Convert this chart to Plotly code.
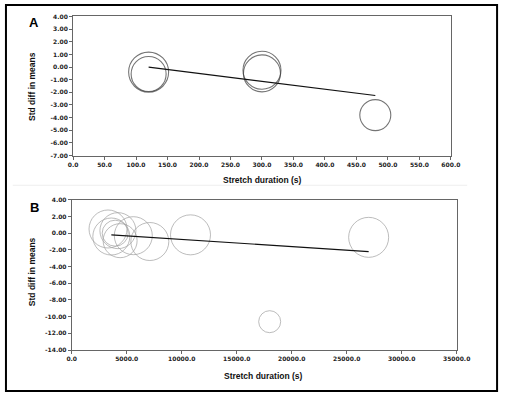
import plotly.graph_objects as go

W, H = 513, 396

# ---------- Data ----------
# Panel A
a_duration = [120, 120, 300, 300, 480]
a_smd = [-0.40, -0.55, -0.25, -0.50, -3.80]
a_weight = [40, 35, 38, 37, 31]
a_reg_x = [120, 480]
a_reg_y = [0.0, -2.25]
a_yticks = [4, 3, 2, 1, 0, -1, -2, -3, -4, -5, -6, -7]
a_xticks = [0, 50, 100, 150, 200, 250, 300, 350, 400, 450, 500, 550, 600]

# Panel B
b_duration = [3300, 3600, 3950, 4200, 4400, 5600, 7100, 10800, 18000, 27000]
b_smd = [0.50, -0.40, 0.00, 0.30, -0.90, -0.30, -1.00, -0.20, -10.60, -0.50]
b_weight = [38, 37, 26, 36, 34, 38, 38, 40, 22, 40]
b_reg_x = [3600, 27000]
b_reg_y = [-0.2, -2.2]
b_yticks = [4, 2, 0, -2, -4, -6, -8, -10, -12, -14]
b_xticks = [0, 5000, 10000, 15000, 20000, 25000, 30000, 35000]

SIZE_SCALE = 1.0

def px(x):
    return x / W

def py(y):
    return 1 - y / H

fig = go.Figure()

fig.add_trace(go.Scatter(
    x=a_duration, y=a_smd, mode="markers",
    marker=dict(symbol="circle-open", size=[w * SIZE_SCALE for w in a_weight],
                color="#3a3a3a", line=dict(width=1.1, color="#3a3a3a")),
    xaxis="x", yaxis="y", showlegend=False, hoverinfo="skip"))
fig.add_trace(go.Scatter(
    x=a_reg_x, y=a_reg_y, mode="lines",
    line=dict(color="#111111", width=1.2),
    xaxis="x", yaxis="y", showlegend=False, hoverinfo="skip"))

fig.add_trace(go.Scatter(
    x=b_duration, y=b_smd, mode="markers",
    marker=dict(symbol="circle-open", size=[w * SIZE_SCALE for w in b_weight],
                color="#a0a0a0", line=dict(width=1, color="#a0a0a0")),
    xaxis="x2", yaxis="y2", showlegend=False, hoverinfo="skip"))
fig.add_trace(go.Scatter(
    x=b_reg_x, y=b_reg_y, mode="lines",
    line=dict(color="#111111", width=1.2),
    xaxis="x2", yaxis="y2", showlegend=False, hoverinfo="skip"))

tickfont = dict(family="DejaVu Sans", size=6, color="#222222", weight="bold")
axis_common = dict(showline=True, mirror=True, linecolor="#666666", linewidth=1,
                   ticks="outside", ticklen=3, tickcolor="#666666", tickwidth=1,
                   showgrid=False, zeroline=False, tickfont=tickfont)

fig.update_layout(
    width=W, height=H, autosize=False,
    margin=dict(l=0, r=0, t=0, b=0),
    paper_bgcolor="white", plot_bgcolor="white",
    xaxis=dict(domain=[px(70.7), px(463)], anchor="y", range=[0, 600],
               tickvals=a_xticks, ticktext=[f"{v:.1f}" for v in a_xticks],
               **axis_common),
    yaxis=dict(domain=[py(154.3), py(12.7)], anchor="x", range=[-7, 4],
               tickvals=a_yticks, ticktext=[f"{v:.2f}" for v in a_yticks],
               **axis_common),
    xaxis2=dict(domain=[px(69.3), px(469)], anchor="y2", range=[0, 35000],
                tickvals=b_xticks, ticktext=[f"{v:.1f}" for v in b_xticks],
                **axis_common),
    yaxis2=dict(domain=[py(352.3), py(199.3)], anchor="x2", range=[-14, 4],
                tickvals=b_yticks, ticktext=[f"{v:.2f}" for v in b_yticks],
                **axis_common),
)

title_font = dict(family="Liberation Sans, Arial", size=8.5, color="#111111")
label_font = dict(family="Liberation Sans, Arial", size=13, color="#000")

def note(text, x, y, font, angle=0):
    return dict(text=text, x=px(x), y=py(y), xref="paper", yref="paper",
                xanchor="center", yanchor="middle", showarrow=False,
                textangle=angle, font=font)

ann = [
    note("<b>A</b>", 30, 19, label_font),
    note("<b>B</b>", 30.5, 207.5, label_font),
    note("<b>Std diff in means</b>", 28, 83.5, title_font, -90),
    note("<b>Std diff in means</b>", 28, 272, title_font, -90),
    note("<b>Stretch duration (s)</b>", 267.5, 179, title_font),
    note("<b>Stretch duration (s)</b>", 268, 378.5, title_font),
]
fig.update_layout(annotations=ann)

shapes = [
    dict(type="rect", xref="paper", yref="paper", x0=px(1), x1=px(511), y0=py(394), y1=py(1),
         line=dict(color="#000000", width=2)),
    dict(type="line", xref="paper", yref="paper", x0=px(8), x1=px(480), y0=py(184.5), y1=py(184.5),
         line=dict(color="#eeeeee", width=1)),
]
fig.update_layout(shapes=shapes)

fig.write_html(
    "out.html",
    config={"displayModeBar": False, "responsive": False, "staticPlot": True},
    post_script="document.body.style.margin='0';document.body.style.overflow='hidden';"
                "document.documentElement.style.overflow='hidden';",
)
